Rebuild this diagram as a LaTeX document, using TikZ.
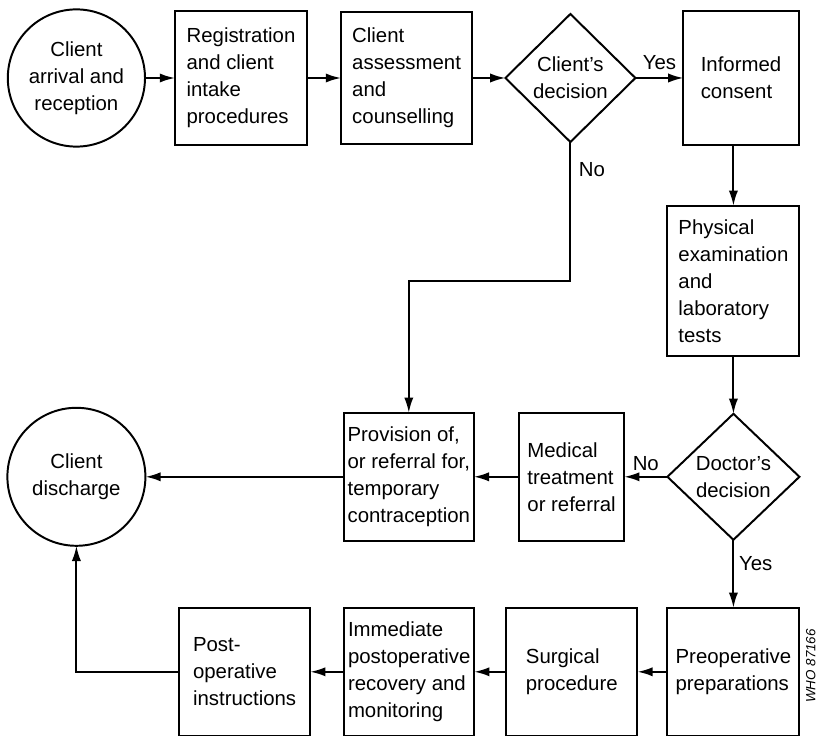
\documentclass[tikz,border=0pt]{standalone}
\usepackage{fontspec}
\setmainfont{Liberation Sans}
\usepackage{tikz}
\usetikzlibrary{shapes.geometric, arrows.meta, positioning}
\tikzstyle{terminal} = [circle, minimum size=3.43cm, inner sep=0pt, outer sep=0pt, align=center, draw=black, line width=1.4pt]
\tikzstyle{process} = [rectangle, minimum width=3.3cm, minimum height=3.2cm, inner xsep=2pt, outer sep=0pt, align=left, draw=black, line width=1.4pt]
\tikzstyle{decision} = [diamond, aspect=1, minimum width=3.25cm, minimum height=3.2cm, inner sep=0pt, outer sep=0pt, align=center, draw=black, line width=1.4pt]
\tikzstyle{arrow} = [line width=1.4pt,->,>={Latex[length=3.8mm,width=2.3mm]}]

\begin{document}
\begin{tikzpicture}[every node/.style={font=\fontsize{14.5}{19.2}\selectfont}]
\useasboundingbox (0,0) rectangle (20.5,-18.4);

% Top row
\node (arrive) [terminal] at (1.91,-1.95) {Client\\arrival and\\reception};
\node (reg) [process, minimum height=3.33cm, right=0.75cm of arrive] {Registration\\and client\\intake\\procedures};
\node (assess) [process, minimum width=3.28cm, minimum height=3.3cm, right=0.85cm of reg] {Client\\assessment\\and\\counselling};
\node (cdec) [decision, right=0.83cm of assess] {Client's\\decision};
\node (consent) [process, minimum width=2.88cm, minimum height=3.33cm, right=1.2cm of cdec] {Informed\\consent};

% Right column
\node (phys) [process, minimum height=3.75cm, below=1.53cm of consent, xshift=-0.19cm] {Physical\\examination\\and\\laboratory\\tests};
\node (ddec) [decision, minimum width=3.3cm, minimum height=3.15cm, below=1.45cm of phys] {Doctor's\\decision};

% Middle row
\node (medical) [process, minimum width=2.63cm, left=1.08cm of ddec] {Medical\\treatment\\or referral};
\node (prov) [process, minimum width=3.25cm, left=1.13cm of medical] {Provision of,\\or referral for,\\temporary\\contraception};
\node (dis) [terminal, minimum size=3.45cm] at (arrive |- ddec) {Client\\discharge};

% Bottom row
\node (preop) [process, below=1.7cm of ddec] {Preoperative\\preparations};
\node (surg) [process, minimum width=3.28cm, left=0.75cm of preop] {Surgical\\procedure};
\node (immed) [process, minimum width=3.25cm, left=0.8cm of surg] {Immediate\\postoperative\\recovery and\\monitoring};
\node (post) [process, minimum width=3.28cm, left=0.85cm of immed] {Post-\\operative\\instructions};

\node (who) [rotate=90, font=\fontsize{9.5}{11}\selectfont\itshape] at (20.27,-16.65) {WHO 87166};

% Arrows
\draw [arrow] (arrive) -- (reg);
\draw [arrow] (reg) -- (assess);
\draw [arrow] (assess) -- (cdec);
\draw [arrow] (cdec) -- node[above, yshift=2pt] {Yes} (consent);
\draw [arrow] (consent.south -| phys.north) -- (phys.north);
\draw [arrow] (phys) -- (ddec);
\draw [arrow] (ddec) -- node[above] {No} (medical);
\draw [arrow] (medical) -- (prov);
\draw [arrow] (prov) -- (dis);
\draw [arrow] (cdec.south) -- node[right, pos=0.2, xshift=2pt] {No} ++(0,-3.48) -| (prov.north);
\draw [arrow] (ddec.south) -- node[right, pos=0.35] {Yes} (preop.north);
\draw [arrow] (preop) -- (surg);
\draw [arrow] (surg) -- (immed);
\draw [arrow] (immed) -- (post);
\draw [arrow] (post.west) -| (dis.south);

\end{tikzpicture}
\end{document}
